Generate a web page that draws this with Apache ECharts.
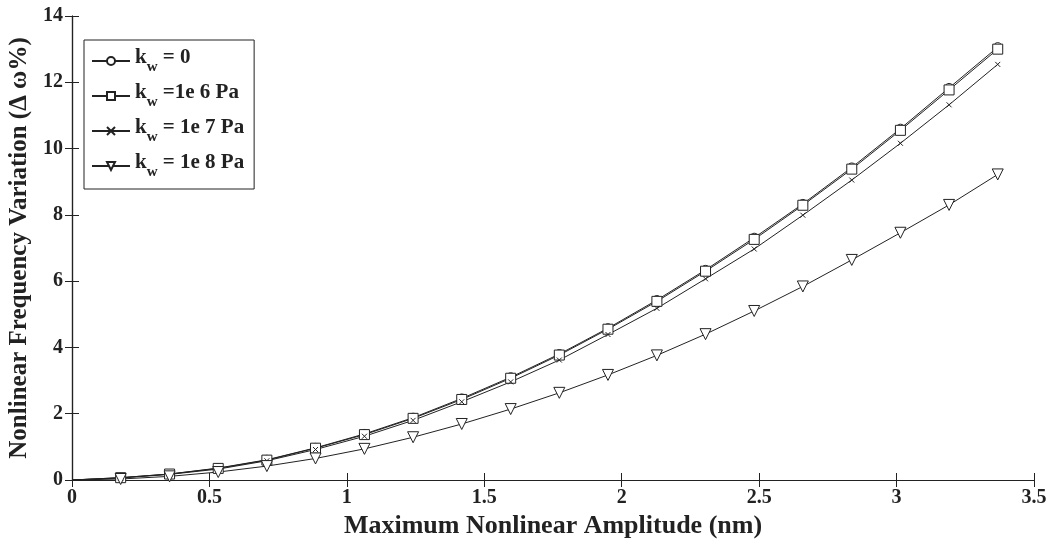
<!DOCTYPE html>
<html>
<head>
<meta charset="utf-8">
<script src="https://cdn.jsdelivr.net/npm/echarts@6/dist/echarts.min.js"></script>
<style>
  html, body { margin: 0; padding: 0; background: #fff; }
  #chart { width: 1055px; height: 543px; }
</style>
</head>
<body>
<div id="chart"></div>
<script>
// amplitude (nm)
const amplitude = [0, 0.177, 0.355, 0.532, 0.709, 0.886, 1.064, 1.241, 1.418, 1.596,
    1.773, 1.950, 2.128, 2.305, 2.482, 2.659, 2.837, 3.014, 3.191, 3.368];

// frequency variation (%)
const kw0   = [0, 0.07, 0.18, 0.36, 0.61, 0.97, 1.39, 1.88, 2.46, 3.10,
    3.80, 4.58, 5.43, 6.34, 7.31, 8.33, 9.43, 10.60, 11.83, 13.06];
const kw1e6 = [0, 0.07, 0.18, 0.35, 0.60, 0.96, 1.37, 1.86, 2.43, 3.07,
    3.77, 4.55, 5.39, 6.30, 7.26, 8.29, 9.38, 10.55, 11.77, 13.00];
const kw1e7 = [0, 0.06, 0.17, 0.33, 0.58, 0.92, 1.32, 1.80, 2.36, 2.96,
    3.62, 4.39, 5.18, 6.07, 6.97, 7.99, 9.05, 10.16, 11.32, 12.54];
const kw1e8 = [0, 0.03, 0.11, 0.24, 0.42, 0.65, 0.94, 1.29, 1.69, 2.14,
    2.63, 3.17, 3.76, 4.40, 5.10, 5.84, 6.64, 7.46, 8.30, 9.22];

const legendNames = ["{k|k}{s|w}{t| = 0}", "{k|k}{s|w}{t| =1e 6 Pa}", "{k|k}{s|w}{t| = 1e 7 Pa}", "{k|k}{s|w}{t| = 1e 8 Pa}"];

const font = "Liberation Serif";
const chart = echarts.init(document.getElementById("chart"));

const pairs = ys => amplitude.map((x, i) => [x, ys[i]]);
// no marker on the origin point
const sizeAt = s => (v => v[0] === 0 ? 0 : s);

const mkSeries = (name, ys, symbol, size, extra) => Object.assign({
    name: name,
    type: "line",
    data: pairs(ys),
    symbol: symbol,
    symbolSize: sizeAt(size),
    showAllSymbol: true,
    lineStyle: { color: "#222", width: 1 },
    itemStyle: { color: "#fff", borderColor: "#222", borderWidth: 1 },
    emphasis: { disabled: true },
    animation: false,
    z: 3
}, extra || {});

const tickStyle = { show: true, inside: true, length: 7, lineStyle: { color: "#222", width: 1 } };
const lineAx = { show: true, lineStyle: { color: "#222", width: 1.2 } };

const option = {
    backgroundColor: "#fff",
    grid: { left: 72, right: 21, top: 16, bottom: 63, outerBoundsMode: "none", containLabel: false },
    legend: {
        left: 84,
        top: 40,
        orient: "vertical",
        itemWidth: 38,
        itemHeight: 10,
        itemGap: 7,
        padding: [7, 10, 9, 7],
        backgroundColor: "#fff",
        borderColor: "#222",
        borderWidth: 1,
        borderRadius: 0,
        textStyle: {
            fontFamily: font,
            fontWeight: "bold",
            color: "#222",
            rich: {
                k: { fontFamily: font, fontWeight: "bold", fontSize: 21, color: "#222", verticalAlign: "top" },
                s: { fontFamily: font, fontWeight: "bold", fontSize: 15, color: "#222", padding: [13, 0, 0, 0] },
                t: { fontFamily: font, fontWeight: "bold", fontSize: 21, color: "#222", verticalAlign: "top" }
            }
        },
        data: legendNames
    },
    xAxis: [{
        type: "value",
        min: 0, max: 3.5, interval: 0.5,
        name: "Maximum Nonlinear Amplitude (nm)",
        nameLocation: "middle",
        nameGap: 31,
        nameTextStyle: { fontFamily: font, fontWeight: "bold", fontSize: 26, color: "#222" },
        axisLine: lineAx,
        axisTick: tickStyle,
        splitLine: { show: false },
        axisLabel: { fontFamily: font, fontWeight: "bold", fontSize: 20, color: "#222", margin: 8 }
    }, {
        type: "value", position: "top",
        min: 0, max: 3.5, interval: 0.5,
        axisLine: lineAx, axisTick: tickStyle,
        axisLabel: { show: false }, splitLine: { show: false }
    }],
    yAxis: [{
        type: "value",
        min: 0, max: 14, interval: 2,
        name: "Nonlinear Frequency Variation (Δ ω%)",
        nameLocation: "middle",
        nameGap: 38,
        nameTextStyle: { fontFamily: font, fontWeight: "bold", fontSize: 25, color: "#222" },
        axisLine: lineAx,
        axisTick: tickStyle,
        splitLine: { show: false },
        axisLabel: { fontFamily: font, fontWeight: "bold", fontSize: 20, color: "#222", margin: 9 }
    }, {
        type: "value", position: "right",
        min: 0, max: 14, interval: 2,
        axisLine: lineAx, axisTick: tickStyle,
        axisLabel: { show: false }, splitLine: { show: false }
    }],
    series: [
        mkSeries(legendNames[0], kw0, "circle", 9),
        mkSeries(legendNames[1], kw1e6, "rect", 10),
        mkSeries(legendNames[2], kw1e7, "path://M0,0L10,10M10,0L0,10", 5, { itemStyle: { color: "none", borderColor: "#222", borderWidth: 1 } }),
        mkSeries(legendNames[3], kw1e8, "triangle", 11, { symbolRotate: 180 })
    ]
};

chart.setOption(option);
</script>
</body>
</html>
